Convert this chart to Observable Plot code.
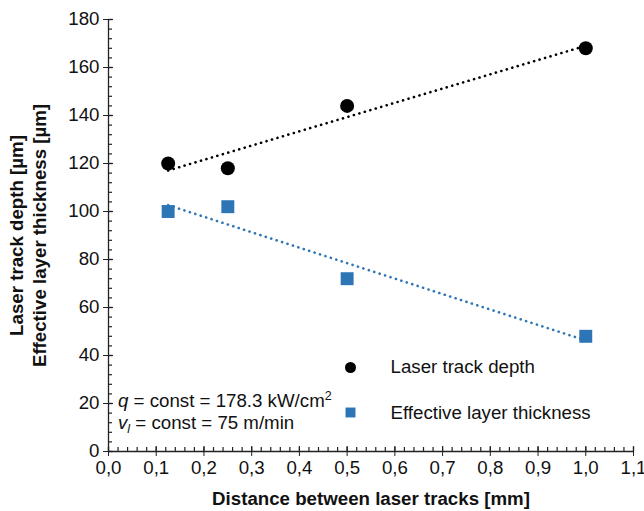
<!DOCTYPE html>
<html>
<head>
<meta charset="utf-8">
<script src="https://cdn.jsdelivr.net/npm/d3@7"></script>
<script src="https://cdn.jsdelivr.net/npm/@observablehq/plot@0.6"></script>
<style>
  body { margin: 0; background: #fff; }
  svg { display: block; }
  #chart svg g[aria-label$="tick label"] { font-size: 18.7px; }
</style>
</head>
<body>
<div id="chart"></div>
<script>
// Distance between laser tracks [mm]
const spacing = [0.125, 0.25, 0.5, 1.0];
// Laser track depth [µm]
const trackDepth = [120, 118, 144, 168];
// Effective layer thickness [µm]
const layerThickness = [100, 102, 72, 48];

const seriesNames = ["Laser track depth", "Effective layer thickness"];
const seriesColors = ["#000000", "#2e75b6"];

const xTicks = [0, 0.1, 0.2, 0.3, 0.4, 0.5, 0.6, 0.7, 0.8, 0.9, 1.0, 1.1];
const xMinorTicks = d3.range(0, 56).map(i => +(i * 0.02).toFixed(2));
const yTicks = [0, 20, 40, 60, 80, 100, 120, 140, 160, 180];
const yMinorTicks = d3.range(0, 46).map(i => i * 4);

const depthRows = spacing.map((d, i) => ({d, v: trackDepth[i]}));
const layerRows = spacing.map((d, i) => ({d, v: layerThickness[i]}));

const W = 644, H = 511;
const margin = {top: 19, right: 11, bottom: 60, left: 108};
const innerW = W - margin.left - margin.right;
const innerH = H - margin.top - margin.bottom;
const axisColor = "#222";
const textColor = "#111";
const font = "'Liberation Sans', Arial, sans-serif";
const fs = 18.7;

const dotted = {strokeWidth: 2.6, strokeDasharray: "0.1 5.6", strokeLinecap: "round", ci: 0};

const plot = Plot.plot({
  width: W,
  height: H,
  marginTop: margin.top,
  marginRight: margin.right,
  marginBottom: margin.bottom,
  marginLeft: margin.left,
  style: {fontFamily: font, fontSize: fs + "px", color: textColor, background: "#fff"},
  x: {domain: [0, 1.1]},
  y: {domain: [0, 180]},
  marks: [
    // axes with outward major ticks
    Plot.axisX({ticks: xTicks, tickFormat: d => d.toFixed(1).replace(".", ","), tickSize: 5, tickPadding: 4, label: null, fontSize: fs, stroke: axisColor}),
    Plot.axisY({ticks: yTicks, tickSize: 5, tickPadding: 4, label: null, fontSize: fs, stroke: axisColor}),
    // inward major and minor ticks
    Plot.tickX(xMinorTicks, {x: d => d, insetTop: innerH - 4, stroke: axisColor, strokeWidth: 1.2}),
    Plot.tickX(xTicks, {x: d => d, insetTop: innerH - 5, stroke: axisColor, strokeWidth: 1.2}),
    Plot.tickY(yMinorTicks, {y: d => d, insetRight: innerW - 4, stroke: axisColor, strokeWidth: 1.2}),
    Plot.tickY(yTicks, {y: d => d, insetRight: innerW - 5, stroke: axisColor, strokeWidth: 1.2}),
    Plot.ruleX([0], {stroke: axisColor, strokeWidth: 1.3}),
    Plot.ruleY([0], {stroke: axisColor, strokeWidth: 1.3}),

    // linear trend lines
    Plot.linearRegressionY(depthRows, {x: "d", y: "v", stroke: seriesColors[0], ...dotted}),
    Plot.linearRegressionY(layerRows, {x: "d", y: "v", stroke: seriesColors[1], ...dotted}),

    // measurements
    Plot.dot(depthRows, {x: "d", y: "v", r: 7, fill: seriesColors[0], symbol: "circle"}),
    Plot.dot(layerRows, {x: "d", y: "v", r: 7.3, fill: seriesColors[1], symbol: "square"}),

    // legend
    Plot.dot([seriesNames[0]], {frameAnchor: "top-left", dx: 242, dy: 348, r: 5.5, fill: seriesColors[0], symbol: "circle"}),
    Plot.dot([seriesNames[1]], {frameAnchor: "top-left", dx: 242, dy: 393, r: 5.6, fill: seriesColors[1], symbol: "square"}),
    Plot.text([seriesNames[0]], {frameAnchor: "top-left", dx: 282, dy: 348, textAnchor: "start", lineAnchor: "middle", fontSize: fs, fill: textColor}),
    Plot.text([seriesNames[1]], {frameAnchor: "top-left", dx: 282, dy: 394, textAnchor: "start", lineAnchor: "middle", fontSize: fs, fill: textColor}),

    // axis titles
    Plot.text(["Distance between laser tracks [mm]"], {frameAnchor: "bottom", dy: 48, lineAnchor: "middle", fontWeight: "bold", fontSize: fs, fill: textColor}),
    Plot.text(["Laser track depth [µm]\nEffective layer thickness [µm]"], {frameAnchor: "left", rotate: -90, dx: -81.5, textAnchor: "middle", lineAnchor: "middle", fontWeight: "bold", fontSize: fs, lineHeight: 1.23, fill: textColor})
  ]
});

// process parameters, with italic symbols, subscript and superscript
const svg = d3.select(plot);
const note = svg.append("g")
  .attr("font-family", font)
  .attr("font-size", fs)
  .attr("text-anchor", "start")
  .attr("fill", textColor);

const line1 = note.append("text").attr("x", margin.left + 10).attr("y", 407);
line1.append("tspan").attr("font-style", "italic").text("q");
line1.append("tspan").text(" = const = 178.3 kW/cm");
line1.append("tspan").attr("font-size", 12.5).attr("dy", -7).text("2");

const line2 = note.append("text").attr("x", margin.left + 10).attr("y", 429);
line2.append("tspan").attr("font-style", "italic").text("v");
line2.append("tspan").attr("font-style", "italic").attr("font-size", 12.5).attr("dy", 4).text("l");
line2.append("tspan").attr("dy", -4).text(" = const = 75 m/min");

document.getElementById("chart").appendChild(plot);
</script>
</body>
</html>
